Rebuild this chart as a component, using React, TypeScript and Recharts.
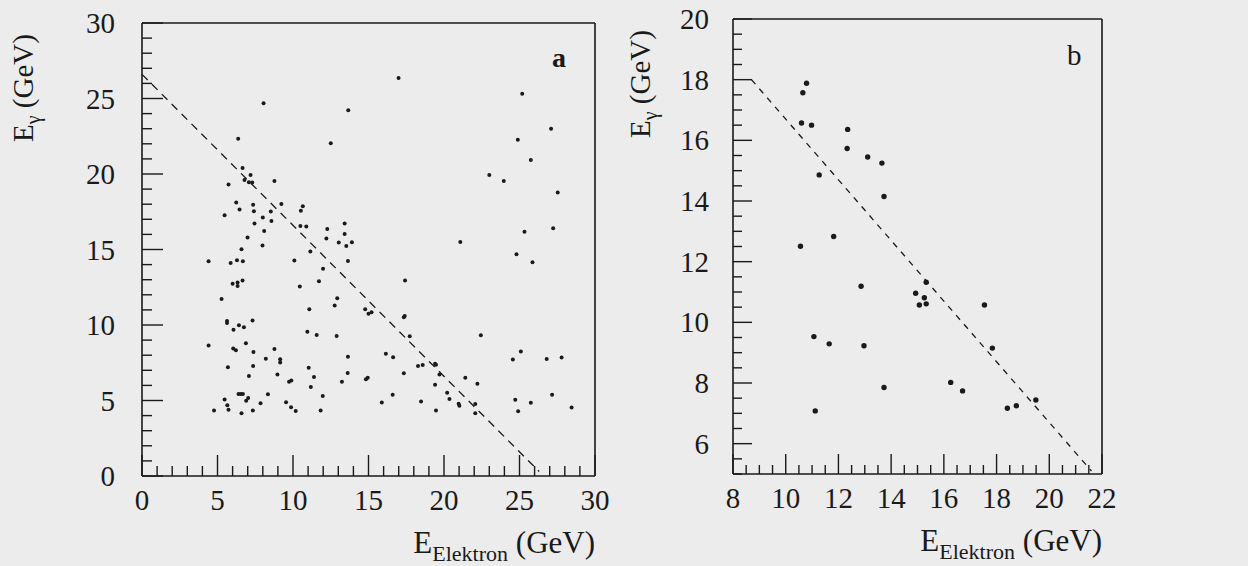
import React from 'react';
import { ScatterChart, Scatter, XAxis, YAxis, ReferenceLine } from 'recharts';

const INK = '#1a1a1a';
const BG = '#ececec';
const FONT = "'Liberation Serif', 'Times New Roman', Times, 'DejaVu Serif', serif";

// Panel a: (E_Elektron, E_gamma) in GeV
const panelAEvents: [number, number][] = [
  [8.05, 24.68], [13.66, 24.22], [6.37, 22.33], [12.5, 22.03], [6.66, 20.39], [7.19, 19.93],
  [6.79, 19.6], [7.08, 19.46], [7.3, 19.44], [8.77, 19.53], [5.73, 19.31], [6.24, 18.12],
  [7.36, 17.96], [9.23, 18.02], [10.65, 17.87], [6.46, 17.65], [7.41, 17.54], [10.52, 17.56],
  [5.47, 17.27], [8.53, 17.52], [8.0, 17.12], [8.57, 16.88], [7.45, 16.72], [10.49, 16.55],
  [10.88, 16.53], [13.42, 16.72], [12.27, 16.35], [8.09, 16.23], [13.42, 16.03], [6.99, 15.8],
  [12.21, 15.73], [13.03, 15.46], [13.9, 15.48], [13.53, 15.23], [7.98, 15.27],
  [16.99, 26.36], [25.18, 25.32], [27.09, 23.0], [24.89, 22.27], [25.75, 20.92], [23.0, 19.93],
  [23.96, 19.53], [27.53, 18.78], [25.33, 16.17], [27.23, 16.41], [21.08, 15.5],
  [6.59, 15.02], [11.15, 14.87], [4.41, 14.22], [5.87, 14.11], [6.29, 14.29], [6.68, 14.22],
  [10.09, 14.27], [13.64, 14.24], [11.99, 13.73], [6.0, 12.74], [6.33, 12.81], [6.33, 12.59],
  [6.66, 12.94], [10.45, 12.55], [11.72, 12.9], [5.27, 11.72], [12.93, 11.77], [12.76, 11.29],
  [14.78, 11.04], [11.08, 11.04], [5.63, 10.27], [5.63, 10.14], [7.32, 10.29], [6.42, 9.98],
  [6.75, 9.85], [6.06, 9.69], [10.95, 9.56], [11.57, 9.34], [12.89, 9.27], [6.88, 8.79],
  [4.41, 8.65], [6.04, 8.45], [6.22, 8.32], [8.77, 8.41], [7.38, 8.21], [13.64, 7.9],
  [8.2, 7.77], [9.15, 7.73], [9.15, 7.52], [5.69, 7.21], [7.36, 7.28], [11.04, 7.17],
  [13.62, 6.82], [14.83, 6.4], [7.08, 6.62], [8.97, 6.73], [11.39, 6.55], [9.74, 6.25],
  [9.89, 6.32], [13.24, 6.25], [11.18, 5.89], [6.39, 5.43], [6.55, 5.43], [6.68, 5.43],
  [8.34, 5.42], [5.47, 5.07], [7.03, 5.16], [6.9, 4.99], [11.97, 5.29], [5.65, 4.69],
  [5.73, 4.39], [7.85, 4.81], [9.54, 4.89], [9.87, 4.56], [4.77, 4.34], [6.59, 4.16],
  [7.34, 4.34], [10.18, 4.3], [11.83, 4.34],
  [24.8, 14.69], [25.86, 14.16], [17.42, 12.94], [15.0, 10.75], [15.2, 10.85], [17.34, 10.51],
  [17.4, 10.6], [17.73, 9.25], [22.44, 9.32], [16.15, 8.1], [16.63, 7.86], [25.09, 8.24],
  [24.56, 7.71], [26.8, 7.75], [27.79, 7.84], [18.28, 7.28], [18.59, 7.35], [19.41, 7.44],
  [19.47, 7.37], [14.95, 6.5], [17.34, 6.8], [19.7, 6.73], [21.41, 6.51], [19.41, 6.05],
  [22.21, 6.11], [16.6, 5.38], [20.21, 5.52], [20.36, 5.1], [27.16, 5.38], [15.88, 4.87],
  [18.48, 4.94], [20.97, 4.79], [21.02, 4.65], [22.07, 4.76], [24.72, 5.05], [25.75, 4.85],
  [28.45, 4.54], [19.47, 4.34], [22.07, 4.16], [24.91, 4.28],
];

// Panel b: (E_Elektron, E_gamma) in GeV
const panelBEvents: [number, number][] = [
  [10.79, 17.88], [10.65, 17.57], [10.6, 16.57], [10.98, 16.5], [12.35, 16.36], [12.33, 15.73],
  [13.11, 15.45], [13.65, 15.25], [11.27, 14.86], [13.73, 14.15], [11.82, 12.83], [10.56, 12.51],
  [12.86, 11.19], [15.33, 11.32], [14.93, 10.96], [15.26, 10.81], [15.07, 10.57], [15.33, 10.61],
  [17.54, 10.57], [11.07, 9.53], [11.65, 9.29], [12.97, 9.23], [17.84, 9.15], [13.73, 7.85],
  [16.26, 8.02], [16.71, 7.74], [19.49, 7.44], [18.41, 7.17], [18.75, 7.25], [11.12, 7.08],
];

// Energy-sum cut lines (dashed)
const panelACut: [number, number][] = [[0, 26.6], [26.3, 0.3]];
const panelBCut: [number, number][] = [[8.7, 18.0], [21.6, 5.1]];

// Ticks
const aTicks = [0, 1, 2, 3, 4, 5, 6, 7, 8, 9, 10, 11, 12, 13, 14, 15, 16, 17, 18, 19, 20, 21, 22, 23, 24, 25, 26, 27, 28, 29, 30];
const aLabels = [0, 5, 10, 15, 20, 25, 30];
const bXTicks = [8, 8.5, 9, 9.5, 10, 10.5, 11, 11.5, 12, 12.5, 13, 13.5, 14, 14.5, 15, 15.5, 16, 16.5, 17, 17.5, 18, 18.5, 19, 19.5, 20, 20.5, 21, 21.5, 22];
const bXLabels = [8, 10, 12, 14, 16, 18, 20, 22];
const bYTicks = [5, 5.5, 6, 6.5, 7, 7.5, 8, 8.5, 9, 9.5, 10, 10.5, 11, 11.5, 12, 12.5, 13, 13.5, 14, 14.5, 15, 15.5, 16, 16.5, 17, 17.5, 18, 18.5, 19, 19.5, 20];
const bYLabels = [6, 8, 10, 12, 14, 16, 18, 20];

const toPoints = (arr: [number, number][]) => arr.map(([x, y]) => ({ x, y }));

const txt = (size: number, extra: any = {}) => ({ fontFamily: FONT, fontSize: size, fill: INK, ...extra });

const makeXTick = (labels: number[], minorLen: number, majorLen: number, fontSize: number) => (props: any) => {
  const { x, y, payload } = props;
  const v = payload.value;
  const major = labels.includes(v);
  const len = major ? majorLen : minorLen;
  return (
    <g>
      <line x1={x} y1={y} x2={x} y2={y - len} stroke={INK} strokeWidth={1.4} />
      {major && (
        <text x={x} y={y + 34} textAnchor="middle" style={txt(fontSize)}>
          {v}
        </text>
      )}
    </g>
  );
};

const makeYTick = (labels: number[], minorLen: number, majorLen: number, gap: number, fontSize: number) => (props: any) => {
  const { x, y, payload } = props;
  const v = payload.value;
  const major = labels.includes(v);
  const len = major ? majorLen : minorLen;
  return (
    <g>
      <line x1={x} y1={y} x2={x + len} y2={y} stroke={INK} strokeWidth={1.4} />
      {major && (
        <text x={x - gap} y={y + 10} textAnchor="end" style={txt(fontSize)}>
          {v}
        </text>
      )}
    </g>
  );
};

const xTitle = (props: any) => {
  const vb = props.viewBox;
  return (
    <text x={vb.x + vb.width} y={vb.y + 77} textAnchor="end" style={txt(31)}>
      E
      <tspan dy={8} style={{ fontSize: 22 }}>Elektron</tspan>
      <tspan dy={-8}> (GeV)</tspan>
    </text>
  );
};

const makeYTitle = (dx: number) => (props: any) => {
  const vb = props.viewBox;
  const tx = vb.x + dx;
  const ty = vb.y + 119;
  return (
    <text x={tx} y={ty} transform={`rotate(-90 ${tx} ${ty})`} textAnchor="start" style={txt(29)}>
      E
      <tspan dy={7} style={{ fontSize: 20 }}>γ</tspan>
      <tspan dy={-7}> (GeV)</tspan>
    </text>
  );
};

const dot = (r: number) => (p: any) => <circle cx={p.cx} cy={p.cy} r={r} fill={INK} />;

export default function App() {
  const aPts = toPoints(panelAEvents);
  const bPts = toPoints(panelBEvents);
  return (
    <div style={{ position: 'absolute', left: 0, top: 0, width: 1248, height: 566, background: BG, overflow: 'hidden' }}>
      <div style={{ position: 'absolute', left: 0, top: 0 }}>
        <ScatterChart width={620} height={566} margin={{ top: 23, right: 25, bottom: 50, left: 0 }}>
          <XAxis
            type="number"
            dataKey="x"
            domain={[0, 30]}
            allowDataOverflow
            ticks={aTicks}
            interval={0}
            tickSize={0}
            tickMargin={0}
            tickLine={false}
            height={40}
            axisLine={{ stroke: INK, strokeWidth: 1.6 }}
            tick={makeXTick(aLabels, 10, 21, 29)}
            label={{ content: xTitle }}
          />
          <YAxis
            type="number"
            dataKey="y"
            domain={[0, 30]}
            allowDataOverflow
            ticks={aTicks}
            interval={0}
            tickSize={0}
            tickMargin={0}
            tickLine={false}
            width={142}
            axisLine={{ stroke: INK, strokeWidth: 1.6 }}
            tick={makeYTick(aLabels, 10, 21, 27, 29)}
            label={{ content: makeYTitle(33) }}
          />
          <ReferenceLine y={30} stroke={INK} strokeWidth={1.6} ifOverflow="visible" />
          <ReferenceLine x={30} stroke={INK} strokeWidth={1.6} ifOverflow="visible" />
          <ReferenceLine
            segment={panelACut.map(([x, y]) => ({ x, y }))}
            stroke={INK}
            strokeWidth={1.3}
            strokeDasharray="8 6"
            ifOverflow="visible"
          />
          <Scatter data={aPts} shape={dot(2)} isAnimationActive={false} />
        </ScatterChart>
      </div>
      <div style={{ position: 'absolute', left: 620, top: 0 }}>
        <ScatterChart width={628} height={566} margin={{ top: 19, right: 146, bottom: 52, left: 0 }}>
          <XAxis
            type="number"
            dataKey="x"
            domain={[8, 22]}
            allowDataOverflow
            ticks={bXTicks}
            interval={0}
            tickSize={0}
            tickMargin={0}
            tickLine={false}
            height={40}
            axisLine={{ stroke: INK, strokeWidth: 1.6 }}
            tick={makeXTick(bXLabels, 9, 20, 29)}
            label={{ content: xTitle }}
          />
          <YAxis
            type="number"
            dataKey="y"
            domain={[5, 20]}
            allowDataOverflow
            ticks={bYTicks}
            interval={0}
            tickSize={0}
            tickMargin={0}
            tickLine={false}
            width={113}
            axisLine={{ stroke: INK, strokeWidth: 1.6 }}
            tick={makeYTick(bYLabels, 9, 19, 24, 29)}
            label={{ content: makeYTitle(30) }}
          />
          <ReferenceLine y={20} stroke={INK} strokeWidth={1.6} ifOverflow="visible" />
          <ReferenceLine x={22} stroke={INK} strokeWidth={1.6} ifOverflow="visible" />
          <ReferenceLine
            segment={panelBCut.map(([x, y]) => ({ x, y }))}
            stroke={INK}
            strokeWidth={1.3}
            strokeDasharray="6 6"
            ifOverflow="visible"
          />
          <Scatter data={bPts} shape={dot(2.7)} isAnimationActive={false} />
        </ScatterChart>
      </div>
      <svg style={{ position: 'absolute', left: 0, top: 0 }} width={1248} height={566} pointerEvents="none">
        <text x={552} y={67} style={txt(28, { fontWeight: 'bold' })}>a</text>
        <text x={1067} y={65} style={txt(29)}>b</text>
      </svg>
    </div>
  );
}
